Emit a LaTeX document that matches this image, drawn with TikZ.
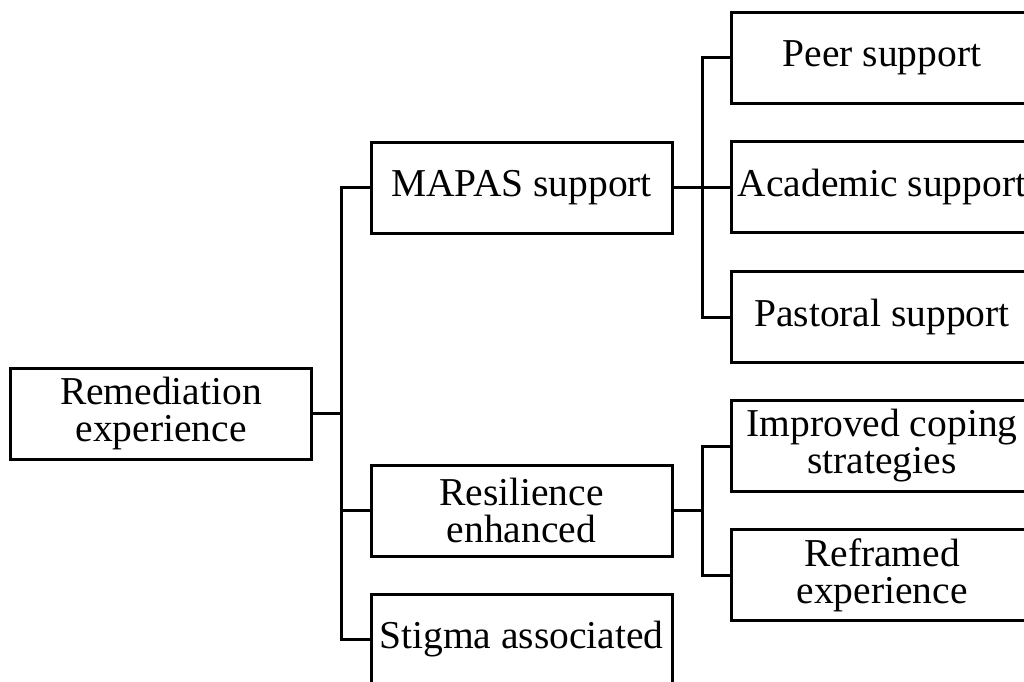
\documentclass[tikz,border=0pt]{standalone}
\usepackage{fontspec}
\setmainfont{Liberation Serif}
\begin{document}
\begin{tikzpicture}[x=1pt,y=-1pt,
  box/.style={draw,line width=3pt,minimum width=301pt,minimum height=91pt,inner sep=0pt,align=center,font=\fontsize{39.5}{37}\selectfont},
  conn/.style={line width=3pt}]
\useasboundingbox (0,0) rectangle (1024,681);
\clip (0,0) rectangle (1024,681);
\node[box] (root) at (161,413.5) {Remediation\\experience};
\node[box] (mapas) at (521.5,187.5) {MAPAS support};
\node[box] (res) at (521.5,510.5) {Resilience\\enhanced};
\node[box] (stig) at (521.5,639.5) {Stigma associated};
\node[box] (peer) at (882,57.5) {Peer support};
\node[box] (acad) at (882,187) {Academic support};
\node[box] (past) at (882,317) {Pastoral support};
\node[box] (impr) at (882,446) {Improved coping\\strategies};
\node[box] (refr) at (882,575) {Reframed\\experience};
\coordinate (v1) at (341,0);
\coordinate (v2) at (702,0);
\foreach \c in {mapas,res,stig} \draw[conn] (root.east) -| (v1 |- root.east) |- (\c.west);
\foreach \c in {peer,acad,past} \draw[conn] (mapas.east) -| (v2 |- mapas.east) |- (\c.west);
\foreach \c in {impr,refr} \draw[conn] (res.east) -| (v2 |- res.east) |- (\c.west);
\end{tikzpicture}
\end{document}
